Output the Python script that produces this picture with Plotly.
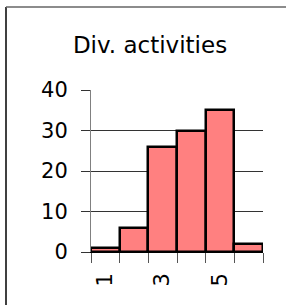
import plotly.graph_objects as go

categories = [1, 2, 3, 4, 5, 6]
counts = [1, 6, 26, 30, 35, 2]
label_vals = [1, 3, 5]
label_text = ["1", "3", "5"]
y_ticks = [0, 10, 20, 30, 40]
boundaries = [0.5, 1.5, 2.5, 3.5, 4.5, 5.5, 6.5]

W, H = 286, 305
L, R, T, B = 91, 23, 90, 53
pw, ph = W - L - R, H - T - B

def px_x(p):
    return (p - L) / pw

def px_y(p):
    return (H - B - p) / ph

fig = go.Figure()
fig.add_trace(go.Bar(
    x=categories, y=counts,
    marker=dict(color="#FF8080", line=dict(color="black", width=2.5)),
    width=1.0,
))
fig.add_trace(go.Scatter(x=boundaries, y=[0] * len(boundaries), xaxis="x2",
                         mode="markers", marker=dict(opacity=0), hoverinfo="skip",
                         showlegend=False))

font = "DejaVu Sans"
fig.update_layout(
    width=W, height=H,
    margin=dict(l=L, r=R, t=T, b=B, pad=0),
    paper_bgcolor="white", plot_bgcolor="white",
    showlegend=False, bargap=0,
    font=dict(family=font, color="black"),
    title=dict(text="Div. activities", x=150 / W, xanchor="center",
               y=1 - 45 / H, yanchor="middle", yref="container",
               font=dict(family=font, size=23, color="black")),
    xaxis=dict(range=[0.5, 6.5], tickmode="array", tickvals=label_vals,
               ticktext=label_text, tickangle=-90, ticks="", showgrid=False,
               zeroline=False, showline=False, ticklabelstandoff=16,
               tickfont=dict(family=font, size=21, color="black")),
    xaxis2=dict(range=[0.5, 6.5], overlaying="x", side="bottom", anchor="y",
                tickmode="array", tickvals=boundaries, showticklabels=False,
                ticks="outside", ticklen=10, tickwidth=1, tickcolor="#555",
                showgrid=False, zeroline=False, showline=True,
                linecolor="black", linewidth=1),
    yaxis=dict(range=[0, 40], tickmode="array", tickvals=y_ticks,
               ticks="outside", ticklen=9, tickwidth=1, tickcolor="#333",
               showgrid=True, gridcolor="#333", gridwidth=1,
               zeroline=False, showline=True, linecolor="#808080", linewidth=1,
               ticklabelstandoff=9,
               tickfont=dict(family=font, size=21, color="black")),
    shapes=[
        dict(type="line", xref="paper", yref="paper",
             x0=px_x(6), x1=px_x(6), y0=px_y(7), y1=px_y(H),
             line=dict(color="black", width=1.5)),
        dict(type="line", xref="paper", yref="paper",
             x0=px_x(6), x1=px_x(W), y0=px_y(7), y1=px_y(7),
             line=dict(color="#666", width=1.5)),
    ],
)

fig.write_html("out.html", config={"displayModeBar": False},
               post_script="document.body.style.margin='0';document.body.style.overflow='hidden';")
